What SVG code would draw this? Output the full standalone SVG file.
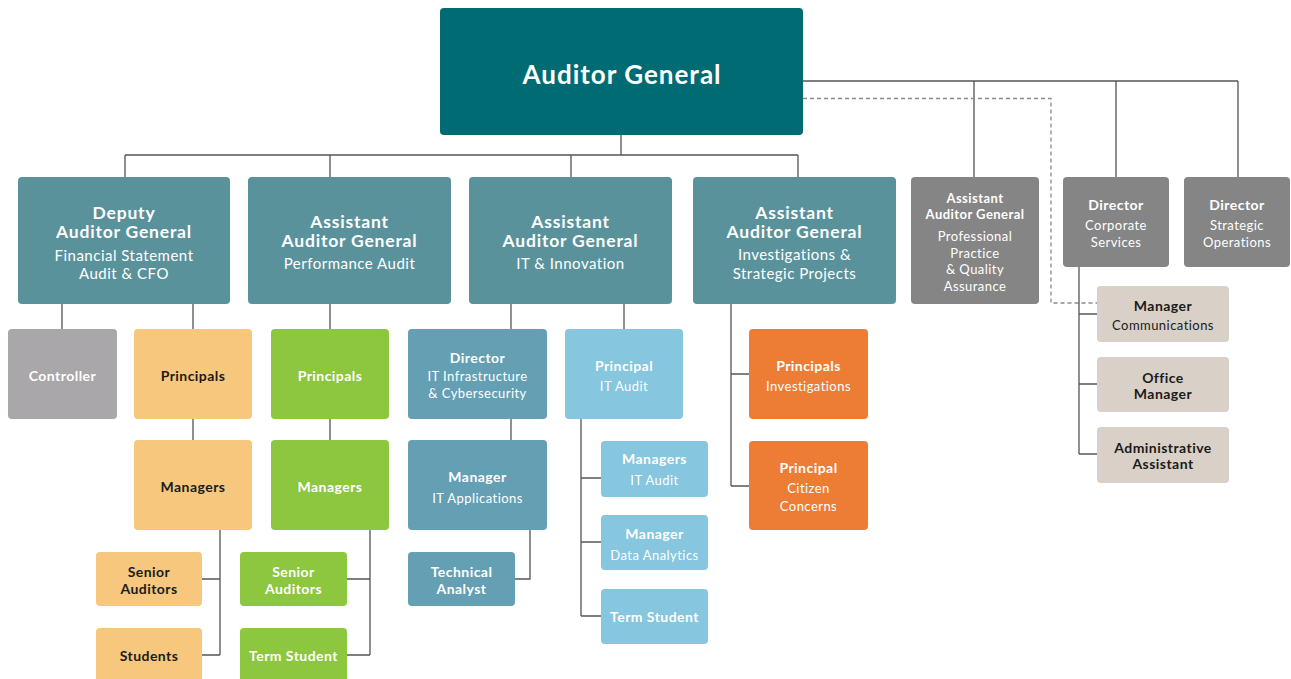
<svg xmlns="http://www.w3.org/2000/svg" width="1291" height="679" viewBox="0 0 1291 679">
  <style>
    text { font-family: Lato, "Open Sans", "Liberation Sans", sans-serif; text-anchor: middle; letter-spacing: 0.45px; }
    .b { font-weight: 700; }
    .r { font-weight: 400; }
    .w { fill: #ffffff; }
    .k { fill: #1b1b1b; }
    .t1 { font-size: 26px; letter-spacing: 1px; }
    .t2 { font-size: 17.5px; letter-spacing: 0.8px; }
    .s2 { font-size: 15px; letter-spacing: 0.5px; }
    .t3 { font-size: 14px; }
    .s3 { font-size: 13px; }
    .t4 { font-size: 14px; }
    .s4 { font-size: 13px; }
    .ag { fill: #006b73; }
    .teal { fill: #5a929c; }
    .grey { fill: #858585; }
    .ctl { fill: #a9a7a9; }
    .ora { fill: #f6c77d; }
    .grn { fill: #8dc63f; }
    .itd { fill: #649fb4; }
    .itl { fill: #86c6de; }
    .inv { fill: #ed7d34; }
    .bei { fill: #d9d0c7; }
    .ln { fill: none; stroke: #555555; stroke-width: 1.3; }
    .dl { fill: none; stroke: #8a8a8a; stroke-width: 1.3; stroke-dasharray: 4 3; }
  </style>
  <rect width="1291" height="679" fill="#ffffff"/>

  <g id="connectors">
    <!-- Auditor General to row 2 -->
    <path class="ln" d="M621 135 V155 M125 155 H798 M125 155 V177 M330 155 V177 M571 155 V177 M798 155 V177"/>
    <path class="ln" d="M803 81 H1238 M974 81 V177 M1116 81 V177 M1238 81 V177"/>
    <path class="dl" d="M803 98.5 H1051 V303 H1097"/>
    <!-- Deputy branch -->
    <path class="ln" d="M62 304 V329 M193 304 V329 M193 419 V440 M220 530 V655 M202 579 H220 M202 655 H220"/>
    <!-- Performance Audit branch -->
    <path class="ln" d="M330 304 V329 M330 419 V440 M370 530 V655 M347 579 H370 M347 655 H370"/>
    <!-- IT & Innovation branch -->
    <path class="ln" d="M511 304 V329 M511 419 V440 M530 530 V579 H515"/>
    <path class="ln" d="M624 304 V329 M581 419 V616 M581 478 H601 M581 542 H601 M581 616 H601"/>
    <!-- Investigations branch -->
    <path class="ln" d="M731 304 V486 M731 374 H749 M731 486 H749"/>
    <!-- Corporate Services branch -->
    <path class="ln" d="M1079 267 V454 M1079 314 H1097 M1079 384 H1097 M1079 454 H1097"/>
  </g>

  <g id="auditor-general">
    <rect class="ag" x="440" y="8" width="363" height="127" rx="4"/>
    <text class="b w t1" x="622" y="84">Auditor General</text>
  </g>

  <g id="deputy-ag">
    <rect class="teal" x="18" y="177" width="212" height="127" rx="4"/>
    <text class="b w t2" x="124" y="218.5">Deputy</text>
    <text class="b w t2" x="124" y="238">Auditor General</text>
    <text class="r w s2" x="124" y="261">Financial Statement</text>
    <text class="r w s2" x="124" y="279">Audit &amp; CFO</text>
  </g>

  <g id="aag-performance">
    <rect class="teal" x="248" y="177" width="203" height="127" rx="4"/>
    <text class="b w t2" x="349.5" y="228">Assistant</text>
    <text class="b w t2" x="349.5" y="247">Auditor General</text>
    <text class="r w s2" x="349.5" y="269">Performance Audit</text>
  </g>

  <g id="aag-it">
    <rect class="teal" x="469" y="177" width="203" height="127" rx="4"/>
    <text class="b w t2" x="570.5" y="228">Assistant</text>
    <text class="b w t2" x="570.5" y="247">Auditor General</text>
    <text class="r w s2" x="570.5" y="269">IT &amp; Innovation</text>
  </g>

  <g id="aag-investigations">
    <rect class="teal" x="693" y="177" width="203" height="127" rx="4"/>
    <text class="b w t2" x="794.5" y="219">Assistant</text>
    <text class="b w t2" x="794.5" y="238">Auditor General</text>
    <text class="r w s2" x="794.5" y="260">Investigations &amp;</text>
    <text class="r w s2" x="794.5" y="279">Strategic Projects</text>
  </g>

  <g id="aag-ppqa">
    <rect class="grey" x="911" y="177" width="128" height="127" rx="4"/>
    <text class="b w s3" x="975" y="203">Assistant</text>
    <text class="b w s3" x="975" y="219">Auditor General</text>
    <text class="r w s3" x="975" y="241">Professional</text>
    <text class="r w s3" x="975" y="258">Practice</text>
    <text class="r w s3" x="975" y="274">&amp; Quality</text>
    <text class="r w s3" x="975" y="291">Assurance</text>
  </g>

  <g id="director-corporate">
    <rect class="grey" x="1063" y="177" width="106" height="90" rx="4"/>
    <text class="b w t3" x="1116" y="210">Director</text>
    <text class="r w s3" x="1116" y="230">Corporate</text>
    <text class="r w s3" x="1116" y="247">Services</text>
  </g>

  <g id="director-strategic">
    <rect class="grey" x="1184" y="177" width="106" height="90" rx="4"/>
    <text class="b w t3" x="1237" y="210">Director</text>
    <text class="r w s3" x="1237" y="230">Strategic</text>
    <text class="r w s3" x="1237" y="247">Operations</text>
  </g>

  <!-- Deputy Auditor General team -->
  <g id="controller">
    <rect class="ctl" x="8" y="329" width="109" height="90" rx="4"/>
    <text class="b w t4" x="62.5" y="381">Controller</text>
  </g>
  <g id="fs-principals">
    <rect class="ora" x="134" y="329" width="118" height="90" rx="4"/>
    <text class="b k t4" x="193" y="381">Principals</text>
  </g>
  <g id="fs-managers">
    <rect class="ora" x="134" y="440" width="118" height="90" rx="4"/>
    <text class="b k t4" x="193" y="492">Managers</text>
  </g>
  <g id="fs-senior-auditors">
    <rect class="ora" x="96" y="552" width="106" height="54" rx="4"/>
    <text class="b k t4" x="149" y="577">Senior</text>
    <text class="b k t4" x="149" y="594">Auditors</text>
  </g>
  <g id="fs-students">
    <rect class="ora" x="96" y="628" width="106" height="55" rx="4"/>
    <text class="b k t4" x="149" y="661">Students</text>
  </g>

  <!-- Performance Audit team -->
  <g id="pa-principals">
    <rect class="grn" x="271" y="329" width="118" height="90" rx="4"/>
    <text class="b w t4" x="330" y="381">Principals</text>
  </g>
  <g id="pa-managers">
    <rect class="grn" x="271" y="440" width="118" height="90" rx="4"/>
    <text class="b w t4" x="330" y="492">Managers</text>
  </g>
  <g id="pa-senior-auditors">
    <rect class="grn" x="240" y="552" width="107" height="54" rx="4"/>
    <text class="b w t4" x="293.5" y="577">Senior</text>
    <text class="b w t4" x="293.5" y="594">Auditors</text>
  </g>
  <g id="pa-term-student">
    <rect class="grn" x="240" y="628" width="107" height="55" rx="4"/>
    <text class="b w t4" x="293.5" y="661">Term Student</text>
  </g>

  <!-- IT & Innovation team -->
  <g id="it-director">
    <rect class="itd" x="408" y="329" width="139" height="90" rx="4"/>
    <text class="b w t4" x="477.5" y="363">Director</text>
    <text class="r w s4" x="477.5" y="381">IT Infrastructure</text>
    <text class="r w s4" x="477.5" y="398">&amp; Cybersecurity</text>
  </g>
  <g id="it-applications">
    <rect class="itd" x="408" y="440" width="139" height="90" rx="4"/>
    <text class="b w t4" x="477.5" y="482">Manager</text>
    <text class="r w s4" x="477.5" y="503">IT Applications</text>
  </g>
  <g id="it-technical-analyst">
    <rect class="itd" x="408" y="552" width="107" height="54" rx="4"/>
    <text class="b w t4" x="461.5" y="577">Technical</text>
    <text class="b w t4" x="461.5" y="594">Analyst</text>
  </g>
  <g id="it-audit-principal">
    <rect class="itl" x="565" y="329" width="118" height="90" rx="4"/>
    <text class="b w t4" x="624" y="371">Principal</text>
    <text class="r w s4" x="624" y="391">IT Audit</text>
  </g>
  <g id="it-audit-managers">
    <rect class="itl" x="601" y="441" width="107" height="56" rx="4"/>
    <text class="b w t4" x="654.5" y="464">Managers</text>
    <text class="r w s4" x="654.5" y="485">IT Audit</text>
  </g>
  <g id="data-analytics">
    <rect class="itl" x="601" y="515" width="107" height="55" rx="4"/>
    <text class="b w t4" x="654.5" y="539">Manager</text>
    <text class="r w s4" x="654.5" y="560">Data Analytics</text>
  </g>
  <g id="it-term-student">
    <rect class="itl" x="601" y="589" width="107" height="55" rx="4"/>
    <text class="b w t4" x="654.5" y="622">Term Student</text>
  </g>

  <!-- Investigations team -->
  <g id="inv-principals">
    <rect class="inv" x="749" y="329" width="119" height="90" rx="4"/>
    <text class="b w t4" x="808.5" y="371">Principals</text>
    <text class="r w s4" x="808.5" y="391">Investigations</text>
  </g>
  <g id="citizen-concerns">
    <rect class="inv" x="749" y="441" width="119" height="89" rx="4"/>
    <text class="b w t4" x="808.5" y="473">Principal</text>
    <text class="r w s4" x="808.5" y="493">Citizen</text>
    <text class="r w s4" x="808.5" y="511">Concerns</text>
  </g>

  <!-- Corporate Services team -->
  <g id="communications">
    <rect class="bei" x="1097" y="286" width="132" height="56" rx="4"/>
    <text class="b k t4" x="1163" y="311">Manager</text>
    <text class="r k s4" x="1163" y="330">Communications</text>
  </g>
  <g id="office-manager">
    <rect class="bei" x="1097" y="357" width="132" height="55" rx="4"/>
    <text class="b k t4" x="1163" y="383">Office</text>
    <text class="b k t4" x="1163" y="399">Manager</text>
  </g>
  <g id="admin-assistant">
    <rect class="bei" x="1097" y="427" width="132" height="56" rx="4"/>
    <text class="b k t4" x="1163" y="453">Administrative</text>
    <text class="b k t4" x="1163" y="469">Assistant</text>
  </g>
</svg>
